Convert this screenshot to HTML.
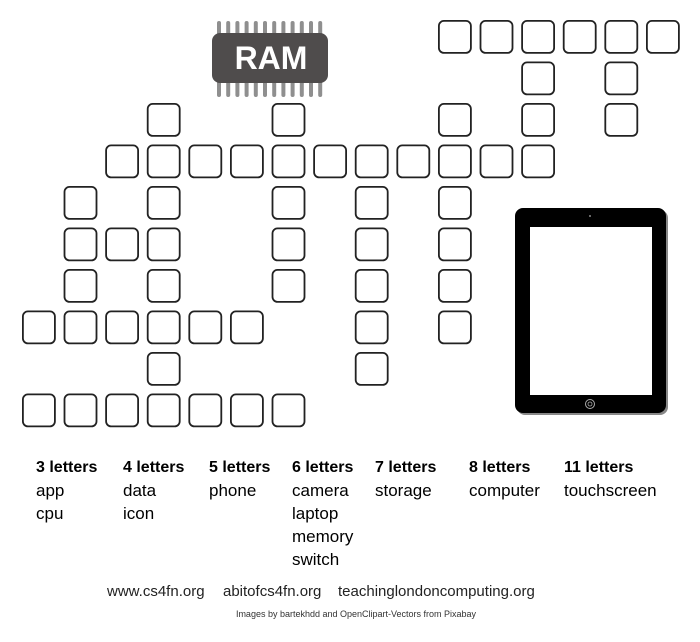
<!DOCTYPE html>
<html><head><meta charset="utf-8"><style>
html,body{margin:0;padding:0;background:#fff;}
svg{display:block}
</style></head><body>
<svg width="700" height="642" viewBox="0 0 700 642" xmlns="http://www.w3.org/2000/svg">
<defs><rect id="c" width="32" height="32" rx="5" fill="#fff" stroke="#222" stroke-width="1.8"/></defs>
<g transform="translate(0.9,0.9)">
<use href="#c" x="438" y="20"/><use href="#c" x="479.6" y="20"/><use href="#c" x="521.2" y="20"/><use href="#c" x="562.8" y="20"/><use href="#c" x="604.4" y="20"/><use href="#c" x="646" y="20"/>
<use href="#c" x="521.2" y="61.5"/><use href="#c" x="604.4" y="61.5"/>
<use href="#c" x="146.8" y="103"/><use href="#c" x="271.6" y="103"/><use href="#c" x="438" y="103"/><use href="#c" x="521.2" y="103"/><use href="#c" x="604.4" y="103"/>
<use href="#c" x="105.2" y="144.5"/><use href="#c" x="146.8" y="144.5"/><use href="#c" x="188.4" y="144.5"/><use href="#c" x="230" y="144.5"/><use href="#c" x="271.6" y="144.5"/><use href="#c" x="313.2" y="144.5"/><use href="#c" x="354.8" y="144.5"/><use href="#c" x="396.4" y="144.5"/><use href="#c" x="438" y="144.5"/><use href="#c" x="479.6" y="144.5"/><use href="#c" x="521.2" y="144.5"/>
<use href="#c" x="63.6" y="186"/><use href="#c" x="146.8" y="186"/><use href="#c" x="271.6" y="186"/><use href="#c" x="354.8" y="186"/><use href="#c" x="438" y="186"/>
<use href="#c" x="63.6" y="227.5"/><use href="#c" x="105.2" y="227.5"/><use href="#c" x="146.8" y="227.5"/><use href="#c" x="271.6" y="227.5"/><use href="#c" x="354.8" y="227.5"/><use href="#c" x="438" y="227.5"/>
<use href="#c" x="63.6" y="269"/><use href="#c" x="146.8" y="269"/><use href="#c" x="271.6" y="269"/><use href="#c" x="354.8" y="269"/><use href="#c" x="438" y="269"/>
<use href="#c" x="22" y="310.5"/><use href="#c" x="63.6" y="310.5"/><use href="#c" x="105.2" y="310.5"/><use href="#c" x="146.8" y="310.5"/><use href="#c" x="188.4" y="310.5"/><use href="#c" x="230" y="310.5"/><use href="#c" x="354.8" y="310.5"/><use href="#c" x="438" y="310.5"/>
<use href="#c" x="146.8" y="352"/><use href="#c" x="354.8" y="352"/>
<use href="#c" x="22" y="393.5"/><use href="#c" x="63.6" y="393.5"/><use href="#c" x="105.2" y="393.5"/><use href="#c" x="146.8" y="393.5"/><use href="#c" x="188.4" y="393.5"/><use href="#c" x="230" y="393.5"/><use href="#c" x="271.6" y="393.5"/>
</g>

<g fill="#8f8f8f">
<rect x="217" y="21" width="4" height="76" rx="2"/><rect x="226.2" y="21" width="4" height="76" rx="2"/><rect x="235.4" y="21" width="4" height="76" rx="2"/><rect x="244.6" y="21" width="4" height="76" rx="2"/><rect x="253.8" y="21" width="4" height="76" rx="2"/><rect x="263" y="21" width="4" height="76" rx="2"/><rect x="272.2" y="21" width="4" height="76" rx="2"/><rect x="281.4" y="21" width="4" height="76" rx="2"/><rect x="290.6" y="21" width="4" height="76" rx="2"/><rect x="299.8" y="21" width="4" height="76" rx="2"/><rect x="309" y="21" width="4" height="76" rx="2"/><rect x="318.2" y="21" width="4" height="76" rx="2"/>
</g>
<rect x="212" y="33" width="116" height="50" rx="8" fill="#4f4c4c"/>
<text x="271" y="69" text-anchor="middle" font-family="Liberation Sans, sans-serif" font-weight="bold" font-size="32" fill="#fff">RAM</text>

<rect x="517" y="210" width="151" height="205" rx="8" fill="#888"/>
<rect x="515" y="208" width="151" height="205" rx="8" fill="#000"/>
<rect x="530" y="227" width="122" height="168" fill="#fff"/>
<circle cx="590" cy="216" r="1" fill="#888"/>
<circle cx="590" cy="404" r="4.5" fill="none" stroke="#aaa" stroke-width="1"/>
<circle cx="590" cy="404" r="2" fill="none" stroke="#aaa" stroke-width="0.8"/>

<g font-family="Liberation Sans, sans-serif" fill="#000">
<g font-weight="bold" font-size="16">
<text x="36" y="472">3 letters</text><text x="123" y="472">4 letters</text><text x="209" y="472">5 letters</text><text x="292" y="472">6 letters</text><text x="375" y="472">7 letters</text><text x="469" y="472">8 letters</text><text x="564" y="472">11 letters</text>
</g>
<g font-size="17">
<text x="36" y="496">app</text><text x="36" y="519">cpu</text>
<text x="123" y="496">data</text><text x="123" y="519">icon</text>
<text x="209" y="496">phone</text>
<text x="292" y="496">camera</text><text x="292" y="519">laptop</text><text x="292" y="542">memory</text><text x="292" y="565">switch</text>
<text x="375" y="496">storage</text>
<text x="469" y="496">computer</text>
<text x="564" y="496">touchscreen</text>
</g>
<g font-size="15" fill="#222">
<text x="107" y="596">www.cs4fn.org</text><text x="223" y="596">abitofcs4fn.org</text><text x="338" y="596">teachinglondoncomputing.org</text>
</g>
<text x="356" y="617" text-anchor="middle" font-size="9" fill="#333">Images by bartekhdd and OpenClipart-Vectors from Pixabay</text>
</g>
</svg>
</body></html>
